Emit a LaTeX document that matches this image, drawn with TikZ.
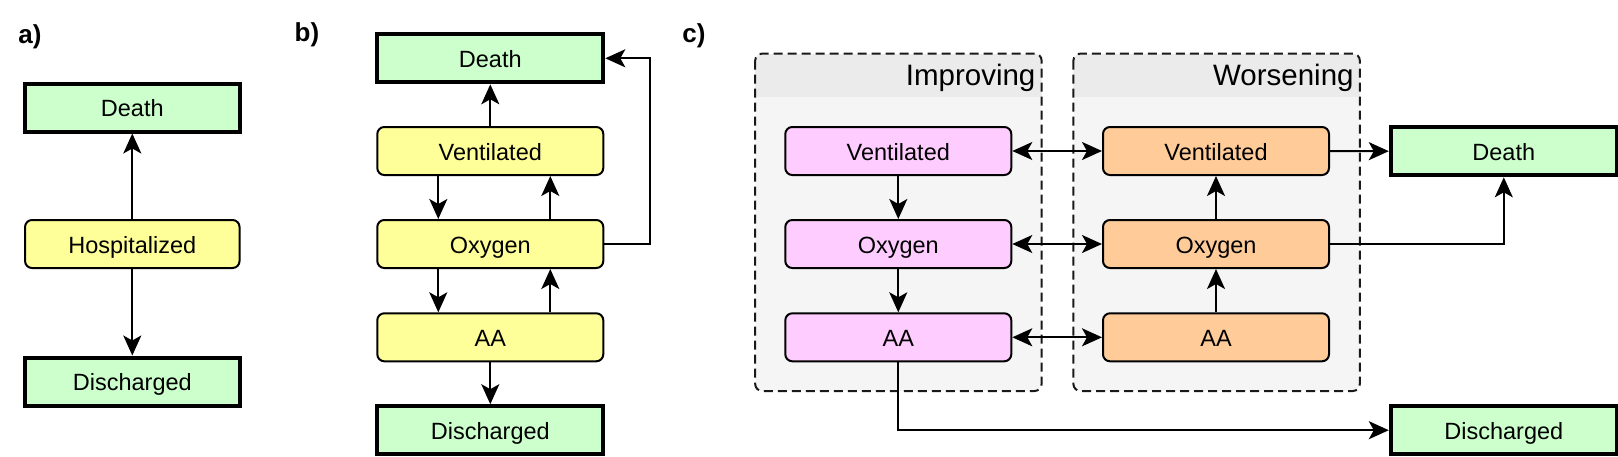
\documentclass[tikz,border=0pt]{standalone}
\usepackage{fontspec}
\setmainfont{Liberation Sans}
\usetikzlibrary{arrows.meta}
\definecolor{endgreen}{HTML}{CCFFCC}
\definecolor{stateyellow}{HTML}{FFFF99}
\definecolor{improvepink}{HTML}{FFCCFF}
\definecolor{worseorange}{HTML}{FFCC99}
\definecolor{groupfill}{HTML}{F5F5F5}
\definecolor{headfill}{HTML}{EBEBEB}
\begin{document}
\begin{tikzpicture}[x=1pt,y=-1pt,
    every node/.style={font=\fontsize{23.5}{28}\selectfont},
    endbox/.style={rectangle, draw=black, line width=4pt, fill=endgreen, minimum width=226pt, minimum height=48pt, inner sep=0pt, text height=18pt, text depth=0pt},
    state/.style={rectangle, rounded corners=7pt, draw=black, line width=2pt, minimum width=226pt, minimum height=48pt, inner sep=0pt, text height=18pt, text depth=0pt},
    group/.style={rectangle, rounded corners=7pt, fill=groupfill, minimum width=286pt, minimum height=337pt, inner sep=0pt},
    groupline/.style={draw=black!90, line width=2pt, dash pattern=on 9pt off 5pt, rounded corners=7pt},
    grouphead/.style={font=\fontsize{29.5}{34}\selectfont, inner sep=0pt, anchor=base east},
    panel/.style={font=\fontsize{26}{30}\selectfont\bfseries, inner sep=0pt},
    arr/.style={line width=2pt, -{Stealth[length=20pt,width=18pt,inset=5pt]}},
    biarr/.style={line width=2pt, {Stealth[length=20pt,width=18pt,inset=5pt]}-{Stealth[length=20pt,width=18pt,inset=5pt]}}]
  \useasboundingbox (0,0) rectangle (1618,456);

  % panel labels
  \node[panel] (la) at (30,37) {a)};
  \node[panel] (lb) at (307,35) {b)};
  \node[panel] (lc) at (694,36) {c)};

  % a)
  \node[endbox, minimum width=215pt] (aDeath) at (132.3,107.5) {Death};
  \node[state, fill=stateyellow, minimum width=214.5pt] (aHosp) at (132.3,244) {Hospitalized};
  \node[endbox, minimum width=215pt] (aDisch) at (132.3,381.5) {Discharged};
  \foreach \source/\dest in {aHosp/aDeath, aHosp/aDisch}
    \draw[arr] (\source) -- (\dest);

  % b)
  \node[endbox] (bDeath) at (490.3,58.3) {Death};
  \node[state, fill=stateyellow] (bVent) at (490.3,151) {Ventilated};
  \node[state, fill=stateyellow] (bOxy) at (490.3,244) {Oxygen};
  \node[state, fill=stateyellow] (bAA) at (490.3,337.3) {AA};
  \node[endbox] (bDisch) at (490.3,430.2) {Discharged};
  \foreach \source/\dest in {bVent/bDeath, bAA/bDisch}
    \draw[arr] (\source) -- (\dest);
  \foreach \source/\dest in {bVent/bOxy, bOxy/bAA}
    \draw[arr] ([xshift=-52pt]\source.south) -- ([xshift=-52pt]\dest.north);
  \foreach \source/\dest in {bOxy/bVent, bAA/bOxy}
    \draw[arr] ([xshift=60pt]\source.north) -- ([xshift=60pt]\dest.south);
  \draw[arr] (bOxy.east) -- ++(46,0) |- (bDeath.east);

  % c) groups
  \foreach \grp/\gx/\title in {impr/898.4/Improving, wors/1216.6/Worsening} {
    \node[group] (\grp) at (\gx,222.3) {};
    \begin{scope}
      \clip[rounded corners=7pt] (\grp.north west) rectangle (\grp.south east);
      \fill[headfill] (\grp.north west) rectangle ([yshift=-43pt]\grp.north east);
    \end{scope}
    \draw[groupline] (\grp.north west) rectangle (\grp.south east);
    \node[grouphead] (\grp T) at ([xshift=-6pt,yshift=-32.3pt]\grp.north east) {\title};
  }

  % c) states
  \node[state, fill=improvepink] (iVent) at (898.3,151) {Ventilated};
  \node[state, fill=improvepink] (iOxy) at (898.3,244) {Oxygen};
  \node[state, fill=improvepink] (iAA) at (898.3,337.3) {AA};
  \node[state, fill=worseorange] (wVent) at (1216,151) {Ventilated};
  \node[state, fill=worseorange] (wOxy) at (1216,244) {Oxygen};
  \node[state, fill=worseorange] (wAA) at (1216,337.3) {AA};
  \node[endbox] (cDeath) at (1503.8,151.3) {Death};
  \node[endbox] (cDisch) at (1503.8,430.2) {Discharged};

  \foreach \row in {Vent, Oxy, AA}
    \draw[biarr] (i\row) -- (w\row);
  \foreach \source/\dest in {iVent/iOxy, iOxy/iAA, wAA/wOxy, wOxy/wVent, wVent/cDeath}
    \draw[arr] (\source) -- (\dest);
  \draw[arr] (wOxy.east) -| (cDeath);
  \draw[arr] (iAA) |- (cDisch);
\end{tikzpicture}
\end{document}
